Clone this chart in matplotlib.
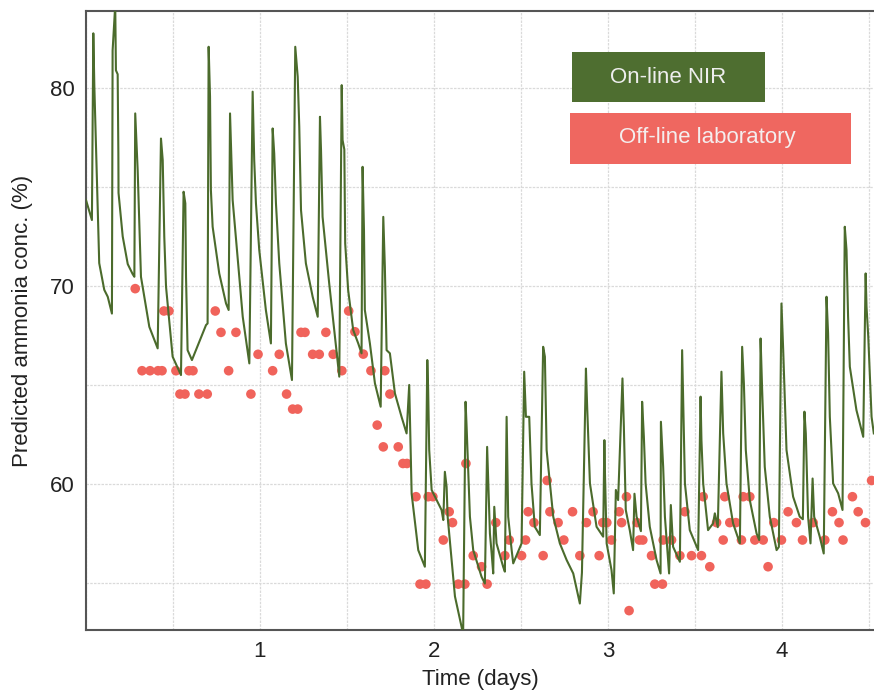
import matplotlib
matplotlib.use('Agg')
import matplotlib.pyplot as plt
from matplotlib.patches import Rectangle
from matplotlib.ticker import MultipleLocator

# on-line NIR prediction (vertices of the trace), time in days
nir_days = [0.000, 0.034, 0.042, 0.048, 0.057, 0.076, 0.105, 0.125, 0.149, 0.153,
            0.168, 0.172, 0.182, 0.186, 0.187, 0.211, 0.240, 0.268, 0.278, 0.283,
            0.297, 0.316, 0.364, 0.412, 0.431, 0.441, 0.450, 0.460, 0.498, 0.546,
            0.561, 0.571, 0.575, 0.584, 0.609, 0.690, 0.699, 0.705, 0.713, 0.718,
            0.728, 0.766, 0.805, 0.820, 0.828, 0.833, 0.843, 0.901, 0.939, 0.958,
            0.967, 0.977, 0.996, 1.034, 1.063, 1.073, 1.082, 1.092, 1.111, 1.149,
            1.184, 1.203, 1.217, 1.226, 1.236, 1.264, 1.303, 1.332, 1.345, 1.351,
            1.360, 1.398, 1.456, 1.470, 1.475, 1.485, 1.490, 1.507, 1.536, 1.565,
            1.584, 1.590, 1.598, 1.603, 1.632, 1.661, 1.694, 1.709, 1.718, 1.728,
            1.747, 1.776, 1.814, 1.843, 1.858, 1.872, 1.910, 1.948, 1.962, 1.967,
            1.973, 1.987, 2.016, 2.044, 2.054, 2.063, 2.073, 2.079, 2.121, 2.168,
            2.182, 2.188, 2.207, 2.226, 2.274, 2.293, 2.306, 2.322, 2.332, 2.341,
            2.347, 2.360, 2.398, 2.408, 2.418, 2.421, 2.427, 2.447, 2.456, 2.504,
            2.519, 2.529, 2.548, 2.561, 2.580, 2.609, 2.628, 2.638, 2.648, 2.686,
            2.724, 2.763, 2.801, 2.839, 2.851, 2.874, 2.881, 2.897, 2.935, 2.973,
            2.980, 2.983, 2.993, 3.021, 3.034, 3.046, 3.059, 3.084, 3.092, 3.103,
            3.126, 3.145, 3.153, 3.165, 3.190, 3.197, 3.207, 3.217, 3.241, 3.280,
            3.303, 3.305, 3.318, 3.328, 3.352, 3.362, 3.375, 3.414, 3.427, 3.433,
            3.443, 3.471, 3.519, 3.533, 3.538, 3.548, 3.576, 3.605, 3.615, 3.632,
            3.653, 3.663, 3.682, 3.720, 3.759, 3.772, 3.782, 3.793, 3.816, 3.855,
            3.870, 3.878, 3.887, 3.902, 3.931, 3.970, 3.983, 3.998, 4.008, 4.027,
            4.065, 4.103, 4.121, 4.130, 4.138, 4.151, 4.165, 4.177, 4.186, 4.218,
            4.241, 4.257, 4.266, 4.276, 4.295, 4.324, 4.349, 4.362, 4.372, 4.381,
            4.391, 4.429, 4.468, 4.482, 4.487, 4.497, 4.516, 4.529]
nir_conc = [74.34, 73.33, 82.77, 80.07, 77.20, 71.15, 69.80, 69.45, 68.60, 81.90,
            84.20, 80.90, 80.70, 76.70, 74.70, 72.50, 71.10, 70.60, 70.46, 78.72,
            75.85, 70.46, 67.93, 66.84, 77.45, 76.36, 72.48, 69.96, 66.42, 65.49,
            74.76, 74.17, 70.46, 66.75, 66.25, 68.02, 68.10, 82.09, 79.56, 74.84,
            72.99, 70.63, 69.11, 68.78, 78.72, 77.20, 74.34, 68.44, 66.08, 79.82,
            76.36, 74.17, 71.81, 68.78, 67.09, 77.96, 76.70, 74.17, 71.14, 67.09,
            65.24, 82.09, 80.57, 78.05, 73.83, 71.14, 69.45, 68.44, 78.55, 76.87,
            73.49, 70.13, 65.41, 80.15, 77.37, 76.90, 72.15, 69.79, 67.77, 67.09,
            66.59, 76.02, 72.82, 68.78, 67.09, 65.07, 63.89, 73.49, 70.97, 66.75,
            66.59, 64.56, 63.38, 62.54, 64.99, 59.49, 56.64, 55.80, 66.25, 64.73,
            61.70, 59.68, 59.17, 58.67, 58.16, 60.60, 59.84, 58.33, 54.30, 52.40,
            64.14, 62.88, 58.33, 56.64, 55.29, 54.95, 61.86, 57.48, 56.47, 55.46,
            58.83, 56.98, 55.80, 55.55, 63.38, 61.70, 58.33, 56.64, 55.97, 56.98,
            65.66, 63.38, 63.38, 60.01, 57.82, 57.40, 66.92, 66.42, 61.70, 58.33,
            56.98, 56.14, 55.46, 53.94, 55.50, 65.82, 63.89, 60.01, 57.82, 57.32,
            62.20, 60.69, 56.98, 55.63, 54.45, 59.68, 59.17, 65.32, 62.88, 58.67,
            57.65, 56.64, 59.49, 58.33, 57.60, 64.14, 62.37, 60.01, 57.82, 56.14,
            55.46, 63.13, 60.85, 58.33, 55.46, 58.92, 56.81, 56.05, 66.75, 64.23,
            60.01, 57.65, 56.64, 64.40, 62.20, 60.01, 57.65, 57.99, 58.50, 57.80,
            65.66, 62.54, 60.01, 57.99, 56.98, 66.92, 65.07, 61.70, 59.17, 57.48,
            57.15, 67.34, 64.73, 60.85, 58.33, 56.64, 56.80, 69.11, 66.75, 61.70,
            59.34, 58.33, 58.20, 63.64, 62.54, 58.33, 56.98, 60.26, 58.33, 57.32,
            56.47, 69.45, 67.60, 63.38, 60.01, 59.51, 58.67, 72.99, 71.81, 68.44,
            65.91, 63.72, 62.37, 70.63, 68.95, 67.43, 63.38, 62.54]

# off-line laboratory samples
lab_days = [0.283, 0.322, 0.368, 0.414, 0.437, 0.448, 0.477, 0.517, 0.592, 0.615,
            0.540, 0.569, 0.649, 0.697, 0.743, 0.776, 0.862, 0.820, 0.989, 0.948,
            1.073, 1.111, 1.153, 1.188, 1.217, 1.236, 1.259, 1.303, 1.341, 1.379,
            1.421, 1.471, 1.510, 1.546, 1.594, 1.638, 1.718, 1.747, 1.674, 1.709,
            1.795, 1.822, 1.845, 1.897, 1.967, 1.994, 1.920, 1.954, 2.054, 2.088,
            2.107, 2.140, 2.178, 2.184, 2.226, 2.274, 2.306, 2.356, 2.408, 2.433,
            2.504, 2.527, 2.542, 2.575, 2.628, 2.651, 2.667, 2.714, 2.747, 2.797,
            2.839, 2.877, 2.915, 2.950, 2.971, 2.994, 3.021, 3.065, 3.079, 3.107,
            3.122, 3.168, 3.181, 3.201, 3.251, 3.270, 3.314, 3.318, 3.366, 3.414,
            3.443, 3.481, 3.538, 3.548, 3.586, 3.625, 3.663, 3.672, 3.701, 3.736,
            3.768, 3.778, 3.816, 3.845, 3.893, 3.921, 3.954, 3.998, 4.036, 4.084,
            4.119, 4.180, 4.247, 4.291, 4.329, 4.352, 4.406, 4.439, 4.481, 4.516]
lab_conc = [69.86, 65.71, 65.71, 65.71, 65.71, 68.73, 68.73, 65.71, 65.71, 65.71,
            64.53, 64.53, 64.53, 64.53, 68.73, 67.65, 67.65, 65.71, 66.54, 64.53,
            65.71, 66.54, 64.53, 63.77, 63.77, 67.65, 67.65, 66.54, 66.54, 67.65,
            66.54, 65.71, 68.73, 67.68, 66.55, 65.71, 65.71, 64.53, 62.96, 61.86,
            61.86, 61.02, 61.02, 59.34, 59.34, 59.34, 54.92, 54.92, 57.15, 58.58,
            58.03, 54.92, 54.92, 61.02, 56.36, 55.80, 54.92, 58.03, 56.36, 57.15,
            56.36, 57.15, 58.58, 58.03, 56.36, 60.16, 58.58, 58.03, 57.15, 58.58,
            56.36, 58.03, 58.58, 56.36, 58.03, 58.03, 57.15, 58.58, 58.03, 59.34,
            53.58, 58.03, 57.15, 57.15, 56.36, 54.92, 54.92, 57.15, 57.15, 56.36,
            58.58, 56.36, 56.36, 59.34, 55.80, 58.03, 57.15, 59.34, 58.03, 58.03,
            57.15, 59.34, 59.34, 57.15, 57.15, 55.80, 58.03, 57.15, 58.58, 58.03,
            57.15, 58.03, 57.15, 58.58, 58.03, 57.15, 59.34, 58.58, 58.03, 60.16]

series_names = ['On-line NIR', 'Off-line laboratory']
green = '#4b6b2c'
red = '#f0635b'

plt.rcParams['font.family'] = ['Liberation Sans', 'DejaVu Sans']

fig = plt.figure(figsize=(8.74, 6.94), dpi=100)
ax = fig.add_axes([0.0984, 0.0922, 0.9016, 0.892])

ax.plot(nir_days, nir_conc, color=green, lw=1.5, zorder=3)
ax.scatter(lab_days, lab_conc, s=48, color=red, edgecolors='none', zorder=2)

ax.set_xlim(0, 4.53)
ax.set_ylim(52.6, 83.9)
ax.set_xticks([1, 2, 3, 4])
ax.set_yticks([60, 70, 80])
ax.xaxis.set_minor_locator(MultipleLocator(0.5))
ax.yaxis.set_minor_locator(MultipleLocator(5))
ax.grid(which='both', color='#dadada', lw=0.9, ls=(0, (2, 1)), zorder=0)
ax.set_axisbelow(True)
ax.tick_params(which='both', length=0, labelsize=16, colors='#222222', pad=8)

for side in ['left', 'bottom', 'top']:
    ax.spines[side].set_color('#555555')
    ax.spines[side].set_linewidth(1.5)
ax.spines['right'].set_visible(False)

ax.set_xlabel('Time (days)', fontsize=16, color='#222222', labelpad=5)
ax.set_ylabel('Predicted ammonia conc. (%)', fontsize=16, color='#222222', labelpad=12)

# key boxes at the top right
ax.add_patch(Rectangle((0.617, 0.853), 0.245, 0.081, transform=ax.transAxes,
                       facecolor='#4e6e30', edgecolor='none', zorder=5))
ax.text(0.739, 0.893, series_names[0], transform=ax.transAxes, ha='center', va='center',
        fontsize=16, color='#eeeeee', zorder=6)
ax.add_patch(Rectangle((0.614, 0.753), 0.357, 0.082, transform=ax.transAxes,
                       facecolor='#ef6760', edgecolor='none', zorder=5))
ax.text(0.789, 0.795, series_names[1], transform=ax.transAxes, ha='center', va='center',
        fontsize=16, color='#f4eeee', zorder=6)

fig.savefig('out.png', dpi=100)
